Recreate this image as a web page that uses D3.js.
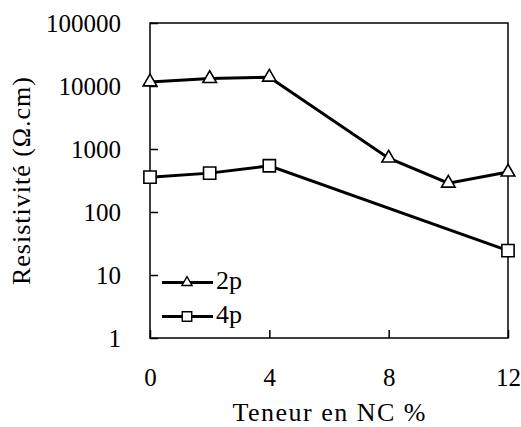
<!DOCTYPE html>
<html>
<head>
<meta charset="utf-8">
<script src="https://cdn.jsdelivr.net/npm/d3@7"></script>
<style>
  body { margin: 0; background: #fff; }
  svg text { font-family: "Liberation Serif", "DejaVu Serif", serif; fill: #000; }
</style>
</head>
<body>
<div id="chart"></div>
<script>
const width = 521;
const height = 427;
const margin = { top: 23, right: 13, bottom: 89, left: 150 };
const serif = "'Liberation Serif', 'DejaVu Serif', serif";

// data
const xValues = [0, 2, 4, 8, 10, 12];
const series2p = [11600, 13100, 13800, 716, 287, 430];
const x4p = [0, 2, 4, 12];
const series4p = [357, 414, 542, 24.4];
const xTicks = [0, 4, 8, 12];
const yTicks = [1, 10, 100, 1000, 10000, 100000];

const svg = d3.select("#chart")
    .append("svg")
    .attr("width", width)
    .attr("height", height);

const x = d3.scaleLinear().domain([0, 12]).range([margin.left, width - margin.right]);
const y = d3.scaleLog().domain([1, 100000]).range([height - margin.bottom, margin.top]);

// frame
svg.append("rect")
    .attr("x", x(0))
    .attr("y", y(100000))
    .attr("width", x(12) - x(0))
    .attr("height", y(1) - y(100000))
    .attr("fill", "none")
    .attr("stroke", "#000")
    .attr("stroke-width", 1.5);

const yAxis = svg.append("g")
    .attr("transform", `translate(${margin.left},0)`)
    .call(d3.axisLeft(y).tickValues(yTicks).tickFormat(d3.format("d")).tickSize(-8).tickPadding(29));
yAxis.attr("font-family", null);
yAxis.select(".domain").remove();
yAxis.selectAll("line").attr("stroke-width", 1.5);
yAxis.selectAll("text").style("font-size", "25px").style("font-family", serif).attr("fill", "#000");

const xAxis = svg.append("g")
    .attr("transform", `translate(0,${height - margin.bottom})`)
    .call(d3.axisBottom(x).tickValues(xTicks).tickSize(-8).tickPadding(30));
xAxis.attr("font-family", null);
xAxis.select(".domain").remove();
xAxis.selectAll("line").attr("stroke-width", 1.5);
xAxis.selectAll("text").style("font-size", "25px").style("font-family", serif).attr("fill", "#000");

svg.append("text")
    .attr("x", (x(0) + x(12)) / 2)
    .attr("y", 421)
    .attr("text-anchor", "middle")
    .attr("textLength", 193)
    .style("font-family", serif)
    .style("font-size", "26px")
    .text("Teneur en NC %");

svg.append("text")
    .attr("transform", "rotate(-90)")
    .attr("x", -181)
    .attr("y", 30)
    .attr("text-anchor", "middle")
    .attr("textLength", 208)
    .style("font-family", serif)
    .style("font-size", "26px")
    .text("Resistivité (Ω.cm)");

const line = d3.line().x(d => x(d[0])).y(d => y(d[1]));
const data2p = xValues.map((v, i) => [v, series2p[i]]);
const data4p = x4p.map((v, i) => [v, series4p[i]]);

const tri = d3.symbol().type(d3.symbolTriangle).size(80);
const sq = d3.symbol().type(d3.symbolSquare).size(150);
const triSmall = d3.symbol().type(d3.symbolTriangle).size(45);
const sqSmall = d3.symbol().type(d3.symbolSquare).size(90);

function drawSeries(data, sym) {
    svg.append("path")
        .datum(data)
        .attr("d", line)
        .attr("fill", "none")
        .attr("stroke", "#000")
        .attr("stroke-width", 3);
    svg.selectAll(null)
        .data(data)
        .enter()
        .append("path")
        .attr("transform", d => `translate(${x(d[0])},${y(d[1])})`)
        .attr("d", sym)
        .attr("fill", "#fff")
        .attr("stroke", "#000")
        .attr("stroke-width", 1.6);
}
drawSeries(data2p, tri);
drawSeries(data4p, sq);

// legend
const legend = [
    { label: "2p", sym: triSmall, y: 282.5 },
    { label: "4p", sym: sqSmall, y: 316.5 }
];
legend.forEach(l => {
    svg.append("line")
        .attr("x1", 162).attr("x2", 213)
        .attr("y1", l.y).attr("y2", l.y)
        .attr("stroke", "#000").attr("stroke-width", 3);
    svg.append("path")
        .attr("transform", `translate(187,${l.y})`)
        .attr("d", l.sym)
        .attr("fill", "#fff")
        .attr("stroke", "#000")
        .attr("stroke-width", 1.4);
    svg.append("text")
        .attr("x", 216)
        .attr("y", l.y + 6)
        .style("font-family", serif)
        .style("font-size", "26px")
        .text(l.label);
});
</script>
</body>
</html>
